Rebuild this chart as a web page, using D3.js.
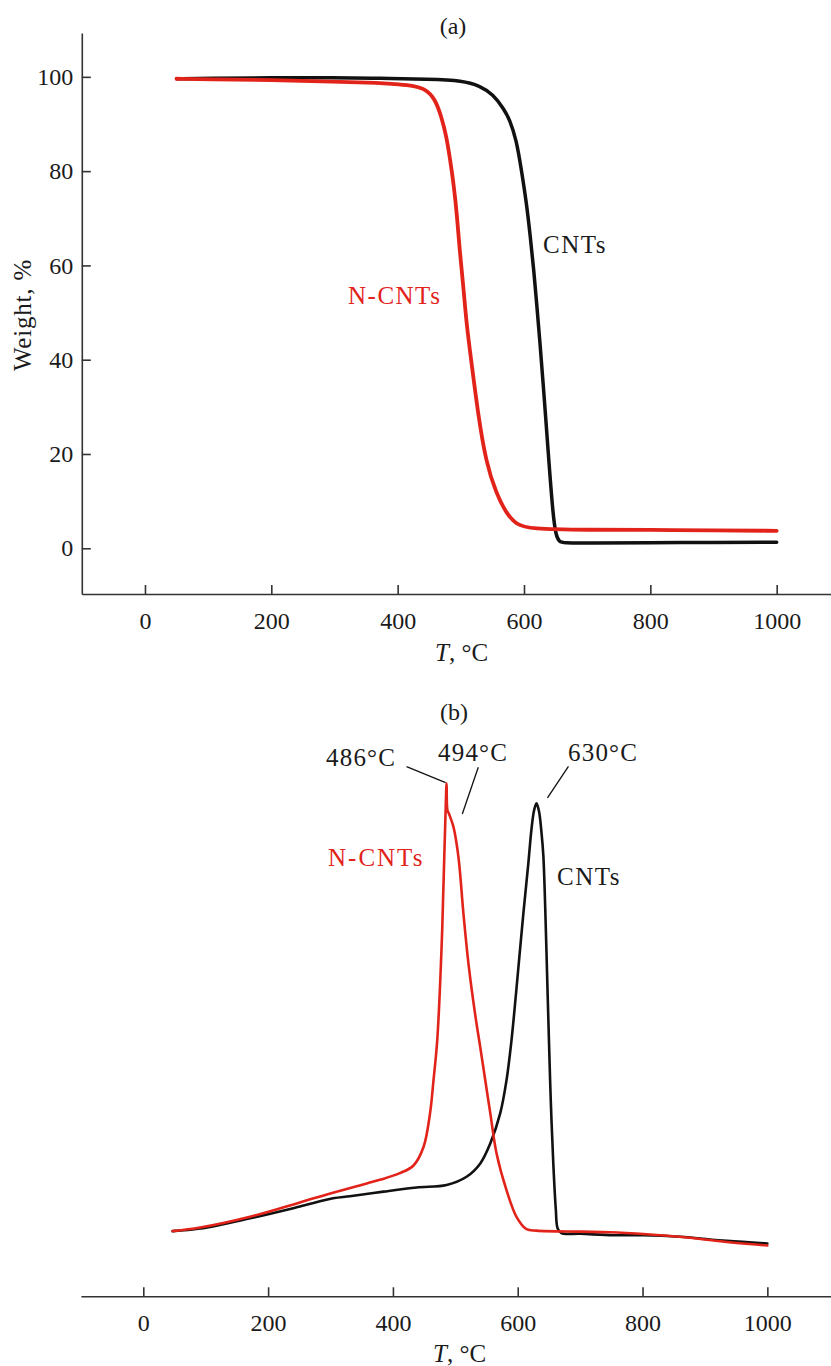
<!DOCTYPE html>
<html>
<head>
<meta charset="utf-8">
<script src="https://cdn.jsdelivr.net/npm/d3@7"></script>
<style>
  body { margin: 0; background: #fff; }
  svg { display: block; }
  text { font-family: "Liberation Serif", "Times New Roman", serif; fill: #1a1a1a; }
</style>
</head>
<body>
<svg id="chart" width="831" height="1366"></svg>
<script>
// ---- (a) thermogravimetric curves: temperature, °C -> weight, %
const tgaCntsT = [50, 100, 200, 300, 372, 450, 503, 530, 551, 568, 577.5, 588, 596, 604, 610, 615.5, 620, 625, 632, 638, 646, 651, 656, 662, 700, 800, 900, 1000];
const tgaCntsW = [99.6, 99.7, 99.8, 99.8, 99.7, 99.5, 99.2, 98.1, 96.3, 93.2, 90.9, 86.6, 80.2, 73.2, 66.1, 59.0, 52.0, 44.2, 32.0, 21.0, 6.7, 2.5, 1.4, 1.1, 1.1, 1.2, 1.2, 1.3];
const tgaNCntsT = [50, 100, 200, 300, 372, 403, 425, 446, 459, 469, 477, 483, 489, 494, 498, 504, 509, 517, 527, 540, 556, 572, 588, 609, 700, 800, 900, 1000];
const tgaNCntsW = [99.6, 99.5, 99.3, 99.0, 98.7, 98.4, 98.1, 97.3, 95.3, 91.7, 87.5, 82.5, 76.9, 70.5, 63.4, 55.6, 47.5, 39.3, 28.7, 18.1, 11.7, 7.4, 5.0, 4.1, 3.9, 3.9, 3.8, 3.7];

// ---- (b) differential curves (arbitrary units)
const dtgCntsT = [47, 91, 171, 251, 304, 331, 385, 438, 486, 518, 540, 556, 572, 582, 590, 598, 609, 617, 622, 626, 630, 634, 638, 641, 644, 647, 650, 653, 657, 661, 664, 670, 700, 753, 801, 860, 935, 1000];
const dtgCntsV = [12.7, 13.2, 15.2, 17.5, 19.1, 19.5, 20.4, 21.2, 21.7, 23.3, 25.9, 29.8, 35.7, 42.1, 49.9, 60.0, 74.6, 84.4, 91.0, 94.6, 96.1, 94.6, 90.5, 86.0, 76.0, 63.0, 50.0, 38.0, 25.9, 17.0, 13.2, 12.3, 12.2, 11.9, 11.9, 11.6, 10.8, 10.3];
const dtgNCntsT = [47, 91, 171, 251, 304, 358, 379, 411, 433, 449, 459.5, 465, 471, 478, 482, 484.5, 486, 487.3, 490, 497, 505, 513, 521, 531.6, 540, 545, 556, 566, 582, 598, 614, 630, 700, 748, 807, 860, 935, 1000];
const dtgNCntsV = [12.7, 13.4, 15.5, 18.3, 20.2, 22.0, 22.7, 24.0, 25.5, 29.1, 35.7, 42.1, 49.9, 68.1, 84.4, 95.0, 100, 94.8, 94.0, 91.5, 85.6, 74.6, 64.9, 55.1, 48.5, 44.5, 35.7, 27.9, 20.7, 15.5, 13.1, 12.8, 12.6, 12.5, 12.1, 11.6, 10.6, 9.9];

// peak temperatures marked on (b)
const peakLabels = ["486°C", "494°C", "630°C"];

// axis ticks
const tempTicks = [0, 200, 400, 600, 800, 1000];
const weightTicks = [0, 20, 40, 60, 80, 100];

const RED = "#e2231a";
const BLACK = "#111";
const AXIS = "#333";

const svg = d3.select("#chart");
const zip = (xs, ys) => xs.map((x, i) => [x, ys[i]]);

// ================= panel (a) =================
const xa = d3.scaleLinear().domain([-100, 1086]).range([81.8, 831]);
const ya = d3.scaleLinear().domain([-9.7, 109.3]).range([594, 33]);
const ga = svg.append("g");

const xAxisA = d3.axisBottom(xa).tickValues(tempTicks).tickFormat(d3.format("d"))
  .tickSizeInner(-9).tickSizeOuter(0).tickPadding(17.5);
ga.append("g").attr("transform", `translate(0,${ya(-9.7)})`).call(xAxisA);
const yAxisA = d3.axisLeft(ya).tickValues(weightTicks).tickFormat(d3.format("d"))
  .tickSizeInner(-9).tickSizeOuter(0).tickPadding(8.5);
ga.append("g").attr("transform", `translate(${xa(-100)},0)`).call(yAxisA);

const lineA = d3.line().x(d => xa(d[0])).y(d => ya(d[1])).curve(d3.curveBasis);
ga.append("path").datum(zip(tgaCntsT, tgaCntsW)).attr("d", lineA)
  .attr("fill", "none").attr("stroke", BLACK).attr("stroke-width", 3.5).attr("stroke-linecap", "round");
ga.append("path").datum(zip(tgaNCntsT, tgaNCntsW)).attr("d", lineA)
  .attr("fill", "none").attr("stroke", RED).attr("stroke-width", 3.8).attr("stroke-linecap", "round");

ga.append("text").attr("x", 453).attr("y", 34).attr("text-anchor", "middle").attr("font-size", 24).text("(a)");
ga.append("text").attr("transform", "translate(31,315) rotate(-90)").attr("text-anchor", "middle")
  .attr("font-size", 25).attr("letter-spacing", 0.8).text("Weight, %");

ga.append("text").attr("x", 543).attr("y", 253).attr("font-size", 25).attr("letter-spacing", 1.5).text("CNTs");
ga.append("text").attr("x", 348).attr("y", 304).attr("font-size", 25).attr("letter-spacing", 1.5)
  .style("fill", RED).text("N-CNTs");

const axisLabelA = ga.append("text").attr("x", 435).attr("y", 661).attr("font-size", 25);
axisLabelA.append("tspan").attr("font-style", "italic").text("T");
axisLabelA.append("tspan").text(", °C");

// ================= panel (b) =================
const xb = d3.scaleLinear().domain([-100, 1102]).range([80.9, 831]);
const yb = d3.scaleLinear().domain([0, 100]).range([1296.3, 783.3]);
const gb = svg.append("g");

const xAxisB = d3.axisBottom(xb).tickValues(tempTicks).tickFormat(d3.format("d"))
  .tickSizeInner(-9).tickSizeOuter(0).tickPadding(17.5);
gb.append("g").attr("transform", `translate(0,${yb(0)})`).call(xAxisB);

const lineB = d3.line().x(d => xb(d[0])).y(d => yb(d[1])).curve(d3.curveCatmullRom.alpha(0.5));
gb.append("path").datum(zip(dtgCntsT, dtgCntsV)).attr("d", lineB)
  .attr("fill", "none").attr("stroke", BLACK).attr("stroke-width", 2.6).attr("stroke-linecap", "round");
gb.append("path").datum(zip(dtgNCntsT, dtgNCntsV)).attr("d", lineB)
  .attr("fill", "none").attr("stroke", RED).attr("stroke-width", 2.6).attr("stroke-linecap", "round");

gb.append("text").attr("x", 454).attr("y", 720).attr("text-anchor", "middle").attr("font-size", 24).text("(b)");

// peak annotations with leader lines
const pk486 = [xb(486), yb(100)];
const pk494 = [xb(494), yb(94)];
const pk630 = [xb(630), yb(96.1)];
const leaders = [
  [[pk486[0] - 40, pk486[1] - 16.6], [pk486[0] - 1, pk486[1] - 0.6]],
  [[pk494[0] + 26.7, pk494[1] - 46.8], [pk494[0] + 10.7, pk494[1]]],
  [[pk630[0] + 32, pk630[1] - 37], [pk630[0] + 11, pk630[1] - 5.5]]
];
gb.selectAll("line.leader").data(leaders).join("line").attr("class", "leader")
  .attr("x1", d => d[0][0]).attr("y1", d => d[0][1])
  .attr("x2", d => d[1][0]).attr("y2", d => d[1][1])
  .attr("stroke", BLACK).attr("stroke-width", 1.3);

const peakPos = [[326, 766], [438, 761], [568, 761]];
gb.selectAll("text.peak").data(peakLabels).join("text").attr("class", "peak")
  .attr("x", (d, i) => peakPos[i][0]).attr("y", (d, i) => peakPos[i][1])
  .attr("font-size", 25).attr("letter-spacing", 1.2).text(d => d);

gb.append("text").attr("x", 328).attr("y", 866).attr("font-size", 25).attr("letter-spacing", 2)
  .style("fill", RED).text("N-CNTs");
gb.append("text").attr("x", 557).attr("y", 885).attr("font-size", 25).attr("letter-spacing", 1.5).text("CNTs");

const axisLabelB = gb.append("text").attr("x", 433).attr("y", 1362).attr("font-size", 25);
axisLabelB.append("tspan").attr("font-style", "italic").text("T");
axisLabelB.append("tspan").text(", °C");

// shared axis styling
svg.selectAll(".domain").attr("stroke", AXIS).attr("stroke-width", 1.6);
svg.selectAll(".tick line").attr("stroke", AXIS).attr("stroke-width", 1.6);
svg.selectAll(".tick text").attr("font-size", 24).attr("fill", "#1a1a1a");
</script>
</body>
</html>
